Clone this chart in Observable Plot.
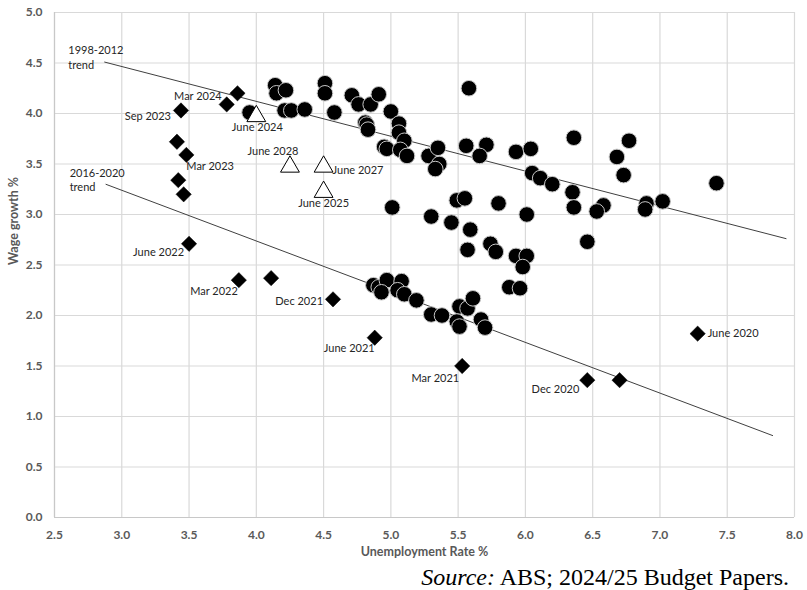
<!DOCTYPE html>
<html>
<head>
<meta charset="utf-8">
<script src="https://cdn.jsdelivr.net/npm/d3@7"></script>
<script src="https://cdn.jsdelivr.net/npm/@observablehq/plot@0.6"></script>
<style>
  html, body { margin: 0; padding: 0; background: #fff; }
  #wrap { position: relative; width: 807px; height: 590px; }
  #source { position: absolute; left: 0; width: 789px; top: 565px; text-align: right;
    font-family: "Liberation Serif", "Times New Roman", serif; font-size: 24px; line-height: 24px; color: #000; }
</style>
</head>
<body>
<div id="wrap">
  <div id="chart"></div>
  <div id="source"><i>Source:</i> ABS; 2024/25 Budget Papers.</div>
</div>
<script>
// Historical quarters (circles): unemployment rate %, wage growth %
const histUnemp = [3.95,4.14,4.15,4.22,4.21,4.26,4.36,4.51,4.51,4.58,4.71,4.76,4.85,4.91,4.81,4.82,4.83,
  5.00,5.06,5.06,5.10,4.95,4.97,5.07,5.12,5.28,5.35,5.36,5.33,5.58,5.56,5.71,5.66,5.93,6.04,6.05,6.11,6.20,
  6.35,6.36,6.68,6.77,6.73,6.36,6.58,6.53,6.46,6.90,6.89,7.02,7.42,
  5.01,5.30,5.49,5.55,5.80,6.01,5.45,5.59,5.57,5.74,5.78,5.93,6.01,5.98,5.88,5.96,
  4.87,4.91,4.97,4.93,5.08,5.05,5.10,5.19,5.30,5.38,5.51,5.57,5.61,5.49,5.51,5.67,5.70];
const histWage = [4.01,4.28,4.20,4.23,4.03,4.03,4.04,4.30,4.20,4.01,4.18,4.09,4.09,4.19,3.91,3.89,3.84,
  4.02,3.90,3.81,3.73,3.67,3.65,3.64,3.58,3.58,3.66,3.50,3.45,4.25,3.68,3.69,3.58,3.62,3.65,3.41,3.36,3.30,
  3.22,3.76,3.57,3.73,3.39,3.07,3.09,3.03,2.73,3.11,3.05,3.13,3.31,
  3.07,2.98,3.14,3.16,3.11,3.00,2.92,2.85,2.65,2.71,2.63,2.59,2.59,2.48,2.28,2.27,
  2.30,2.28,2.35,2.23,2.34,2.25,2.21,2.15,2.01,2.00,2.09,2.07,2.17,1.94,1.89,1.96,1.88];

// Recent quarters (diamonds)
const recentLabel = ["June 2020","","Dec 2020","Mar 2021","June 2021","","Dec 2021","Mar 2022","June 2022",
  "","","Mar 2023","","Sep 2023","","Mar 2024"];
const recentUnemp = [7.28,6.70,6.46,5.53,4.88,4.11,4.57,3.87,3.50,3.46,3.42,3.48,3.41,3.44,3.86,3.78];
const recentWage  = [1.82,1.36,1.36,1.50,1.78,2.37,2.16,2.35,2.71,3.20,3.34,3.59,3.72,4.03,4.20,4.09];

// Budget forecasts (triangles)
const fcLabel = ["June 2024","June 2025","June 2027","June 2028"];
const fcUnemp = [4.0,4.5,4.5,4.25];
const fcWage  = [4.0,3.25,3.5,3.5];

// Trend lines
const trendName = ["1998-2012\ntrend","2016-2020\ntrend"];
const trendX0 = [2.87,2.88], trendY0 = [4.51,3.30];
const trendX1 = [7.94,7.84], trendY1 = [2.76,0.81];

// Ticks
const xTicks = [2.5,3.0,3.5,4.0,4.5,5.0,5.5,6.0,6.5,7.0,7.5,8.0];
const yTicks = [0,0.5,1.0,1.5,2.0,2.5,3.0,3.5,4.0,4.5,5.0];

const hist = histUnemp.map((u,i) => ({u, w: histWage[i]}));
const recent = recentUnemp.map((u,i) => ({u, w: recentWage[i], label: recentLabel[i]}));
const fc = fcUnemp.map((u,i) => ({u, w: fcWage[i], label: fcLabel[i]}));
const trends = trendName.map((n,i) => ({n, x0: trendX0[i], y0: trendY0[i], x1: trendX1[i], y1: trendY1[i]}));

// label placement (style)
const place = {
  "Mar 2024": ["end", -5, -8], "Sep 2023": ["end", -10, 6], "Mar 2023": ["start", 0, 12],
  "June 2022": ["end", -5, 9], "Mar 2022": ["end", -1, 11], "Dec 2021": ["end", -10, 2],
  "June 2021": ["end", 0, 11], "Mar 2021": ["end", -3, 12], "Dec 2020": ["end", -8, 9],
  "June 2020": ["start", 10, 0],
  "June 2024": ["middle", 1, 14], "June 2028": ["middle", -17, -13], "June 2027": ["start", 9, 6],
  "June 2025": ["middle", 0, 14]
};
const labelMarks = [...recent.filter(d => d.label), ...fc].map(d => {
  const [a, dx, dy] = place[d.label];
  return Plot.text([d], {x: "u", y: "w", text: "label", textAnchor: a, dx, dy,
    fill: "#262626", fontSize: 11, fontWeight: "normal"});
});

const chart = Plot.plot({
  width: 807, height: 560,
  marginLeft: 54, marginRight: 13, marginTop: 12, marginBottom: 43,
  style: {fontFamily: "Lato, 'Open Sans', sans-serif", fontSize: "12px", fontWeight: "bold", color: "#595959", background: "white"},
  x: {domain: [2.5, 8], ticks: xTicks, tickFormat: d3.format(".1f"), tickSize: 0, tickPadding: 13, label: null},
  y: {domain: [0, 5], ticks: yTicks, tickFormat: d3.format(".1f"), tickSize: 0, tickPadding: 12, label: null},
  marks: [
    Plot.ruleX(xTicks, {stroke: "#d9d9d9", strokeWidth: 1.2}),
    Plot.ruleY(yTicks, {stroke: "#d9d9d9", strokeWidth: 1.2}),
    Plot.ruleX([2.5], {stroke: "#c8c8c8", strokeWidth: 1.2}),
    Plot.ruleY([0], {stroke: "#c8c8c8", strokeWidth: 1.2}),
    Plot.link(trends, {x1: "x0", y1: "y0", x2: "x1", y2: "y1", stroke: "#404040", strokeWidth: 1}),
    Plot.text(trends, {x: "x0", y: "y0", text: "n", textAnchor: "start", dx: -36, dy: -5,
      lineHeight: 1.3, fill: "#262626", fontSize: 11, fontWeight: "normal"}),
    Plot.dot(hist, {x: "u", y: "w", r: 7.8, fill: "#000", stroke: "#c8c8c8", strokeWidth: 1}),
    Plot.dot(recent, {x: "u", y: "w", r: 6.9, symbol: "diamond2", fill: "#000", stroke: "#000", strokeWidth: 0.5}),
    Plot.dot(fc, {x: "u", y: "w", r: 7, symbol: "triangle", fill: "#fff", stroke: "#000", strokeWidth: 1, dy: 2.7}),
    ...labelMarks,
    Plot.text(["Unemployment Rate %"], {frameAnchor: "bottom", dy: 38, fill: "#595959", fontWeight: "bold", fontSize: 12.5}),
    Plot.text(["Wage growth %"], {frameAnchor: "left", dx: -41, rotate: -90, fill: "#595959", fontWeight: "bold", fontSize: 12.5})
  ]
});
document.getElementById("chart").appendChild(chart);
</script>
</body>
</html>
